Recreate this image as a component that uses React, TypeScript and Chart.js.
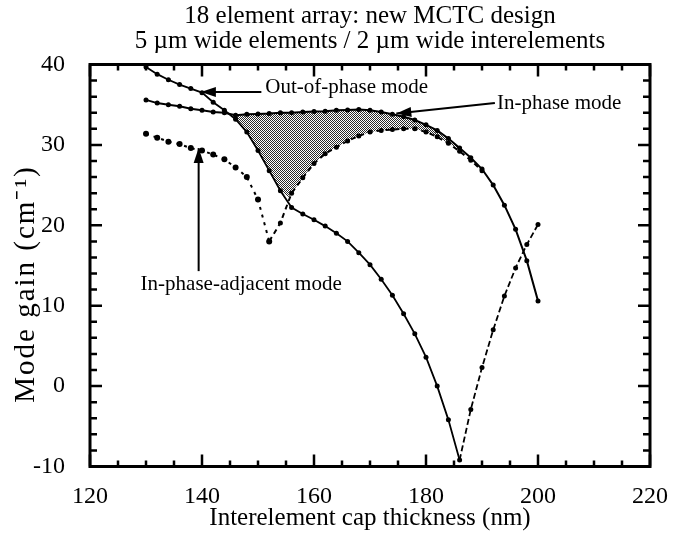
import { useEffect, useRef } from 'react';
import { Chart, registerables } from 'chart.js';

Chart.register(...registerables);

const FONT = '"Liberation Serif", "Times New Roman", serif';

const titleLines = ['18 element array: new MCTC design', '5 \u00b5m wide elements / 2 \u00b5m wide interelements'];
const xAxisTitle = 'Interelement cap thickness (nm)';
const yAxisTitle = 'Mode gain (cm\u207b\u00b9)';

const xTickLabels = [120, 140, 160, 180, 200, 220];
const yTickLabels = [-10, 0, 10, 20, 30, 40];

const thickness = [130, 132, 134, 136, 138, 140, 142, 144, 146, 148, 150, 152, 154, 156, 158, 160, 162, 164, 166, 168, 170, 172, 174, 176, 178, 180, 182, 184, 186, 188, 190, 192, 194, 196, 198, 200];

const inPhase = [35.6, 35.2, 35.0, 34.8, 34.5, 34.3, 34.1, 34.0, 33.7, 33.8, 33.85, 33.9, 34.0, 34.0, 34.1, 34.15, 34.2, 34.3, 34.35, 34.4, 34.3, 34.1, 33.8, 33.5, 33.1, 32.5, 31.8, 30.8, 29.6, 28.4, 27.0, 25.0, 22.5, 19.5, 15.6, 10.6];

const outOfPhase = [39.7, 38.8, 38.1, 37.5, 37.0, 36.5, 35.3, 34.3, 33.2, 31.6, 29.3, 26.8, 24.3, 22.2, 21.4, 20.7, 19.9, 19.0, 18.0, 16.6, 15.1, 13.3, 11.3, 9.0, 6.5, 3.6, 0.0, -4.2, -9.2, -2.9, 2.3, 7.0, 11.2, 14.7, 17.6, 20.1];

const adjacentThickness = [130, 132, 134, 136, 138, 140, 142, 144, 146, 148, 150, 152, 154, 156, 158, 160, 162, 164, 166, 168, 170, 172, 174, 176, 178, 180, 182, 184, 186, 188, 190];
const inPhaseAdjacent = [31.4, 30.9, 30.4, 30.1, 29.6, 29.3, 28.8, 28.2, 27.2, 26.0, 23.2, 18.0, 20.3, 24.0, 25.9, 27.7, 28.9, 29.7, 30.5, 31.1, 31.6, 31.8, 31.9, 32.0, 32.0, 31.6, 31.0, 30.2, 29.2, 28.1, 26.8];

// lower edge of the shaded (hatched) region
const shadeThickness = [145.4, 146, 148, 150, 152, 154, 155.4, 156, 158, 160, 162, 164, 166, 168, 170, 172, 174, 176, 178, 180, 182, 184, 186];
const shadeLower = [33.6, 33.2, 31.6, 29.3, 26.8, 24.3, 23.5, 24.0, 25.9, 27.7, 28.9, 29.7, 30.5, 31.1, 31.6, 31.8, 31.9, 32.0, 32.0, 31.6, 31.0, 30.2, 29.4];

const annotations = [
  { text: 'Out-of-phase mode', tx: 151.3, ty: 37.14, align: 'left', from: [150.6, 36.58], to: [139.8, 36.58] },
  { text: 'In-phase mode', tx: 192.7, ty: 35.17, align: 'left', from: [192.3, 35.2], to: [174.7, 33.9] },
  { text: 'In-phase-adjacent mode', tx: 147.0, ty: 12.6, align: 'center', from: [139.4, 14.3], to: [139.4, 29.6] },
];

const X_MIN = 120, X_MAX = 220, X_MAJOR = 20, X_MINOR = 5;
const Y_MIN = -10, Y_MAX = 40, Y_MAJOR = 10, Y_MINOR = 2;

function arrowHead(ctx: CanvasRenderingContext2D, x0: number, y0: number, x1: number, y1: number) {
  const ang = Math.atan2(y1 - y0, x1 - x0);
  const len = 15, hw = 5;
  ctx.beginPath();
  ctx.moveTo(x1, y1);
  ctx.lineTo(x1 - len * Math.cos(ang) + hw * Math.sin(ang), y1 - len * Math.sin(ang) - hw * Math.cos(ang));
  ctx.lineTo(x1 - len * Math.cos(ang) - hw * Math.sin(ang), y1 - len * Math.sin(ang) + hw * Math.cos(ang));
  ctx.closePath();
  ctx.fill();
}

const framePlugin = {
  id: 'frameTicks',
  afterDraw(chart: any) {
    const { ctx, chartArea: a } = chart;
    const x = chart.scales.x;
    const y = chart.scales.y;
    ctx.save();
    ctx.strokeStyle = '#000';
    ctx.fillStyle = '#000';
    ctx.lineWidth = 2.5;
    ctx.beginPath();
    for (let v = X_MIN; v <= X_MAX; v += X_MINOR) {
      const px = x.getPixelForValue(v);
      const len = v % X_MAJOR === 0 ? 12 : 6;
      ctx.moveTo(px, a.bottom); ctx.lineTo(px, a.bottom - len);
      ctx.moveTo(px, a.top); ctx.lineTo(px, a.top + len);
    }
    for (let v = Y_MIN; v <= Y_MAX; v += Y_MINOR) {
      const py = y.getPixelForValue(v);
      const len = v % Y_MAJOR === 0 ? 12 : 7;
      ctx.moveTo(a.left, py); ctx.lineTo(a.left + len, py);
      ctx.moveTo(a.right, py); ctx.lineTo(a.right - len, py);
    }
    ctx.stroke();
    ctx.lineWidth = 3;
    ctx.strokeRect(a.left, a.top, a.right - a.left, a.bottom - a.top);

    ctx.font = `21px ${FONT}`;
    ctx.textBaseline = 'middle';
    ctx.lineWidth = 2;
    for (const an of annotations) {
      const x0 = x.getPixelForValue(an.from[0]);
      const y0 = y.getPixelForValue(an.from[1]);
      const x1 = x.getPixelForValue(an.to[0]);
      const y1 = y.getPixelForValue(an.to[1]);
      ctx.beginPath();
      ctx.moveTo(x0, y0);
      ctx.lineTo(x1, y1);
      ctx.stroke();
      arrowHead(ctx, x0, y0, x1, y1);
      ctx.textAlign = an.align as CanvasTextAlign;
      ctx.fillText(an.text, x.getPixelForValue(an.tx), y.getPixelForValue(an.ty));
    }

    // y-axis title (wider set than the other labels in the original)
    ctx.save();
    ctx.translate(26, 284);
    ctx.rotate(-Math.PI / 2);
    ctx.font = `29px ${FONT}`;
    try { (ctx as any).letterSpacing = '2px'; } catch (e) { /* ignore */ }
    ctx.textAlign = 'center';
    ctx.textBaseline = 'middle';
    ctx.fillText(yAxisTitle, 0, 0);
    ctx.restore();

    ctx.restore();
  },
};

function makePattern(): CanvasPattern | string {
  const c = document.createElement('canvas');
  c.width = 2; c.height = 2;
  const g = c.getContext('2d');
  if (!g) return '#888';
  g.fillStyle = '#fff';
  g.fillRect(0, 0, 2, 2);
  g.fillStyle = '#2a2a2a';
  g.fillRect(0, 0, 1, 1);
  g.fillRect(1, 1, 1, 1);
  const p = g.createPattern(c, 'repeat');
  return p || '#888';
}

export default function App() {
  const ref = useRef<HTMLCanvasElement | null>(null);

  useEffect(() => {
    if (!ref.current) return;
    const pattern = makePattern();
    const chart = new Chart(ref.current, {
      type: 'line',
      data: {
        datasets: [
          {
            label: 'In-phase mode',
            data: thickness.map((t, i) => ({ x: t, y: inPhase[i] })),
            borderColor: '#000',
            backgroundColor: '#000',
            borderWidth: 2,
            pointRadius: 2.5,
            pointBorderWidth: 0,
            fill: false,
            tension: 0,
          },
          {
            label: 'Out-of-phase mode',
            data: thickness.map((t, i) => ({ x: t, y: outOfPhase[i] })),
            borderColor: '#000',
            backgroundColor: '#000',
            borderWidth: 1.8,
            pointRadius: 2.5,
            pointBorderWidth: 0,
            fill: false,
            tension: 0,
            segment: {
              borderDash: (c: any) => (c.p0.parsed.x >= 186 ? [6, 3] : undefined),
            },
          },
          {
            label: 'In-phase-adjacent mode',
            data: adjacentThickness.map((t, i) => ({ x: t, y: inPhaseAdjacent[i] })),
            borderColor: '#000',
            backgroundColor: '#000',
            borderWidth: 2,
            borderDash: [3, 5],
            pointRadius: (c: any) => (c.raw && c.raw.x <= 152 ? 3 : 2.5),
            pointBorderWidth: 0,
            fill: false,
            tension: 0,
            segment: {
              borderDash: (c: any) => (c.p0.parsed.x >= 152 ? [5, 4] : undefined),
            },
          },
          {
            label: 'shade',
            data: shadeThickness.map((t, i) => ({ x: t, y: shadeLower[i] })),
            borderWidth: 0,
            borderColor: 'rgba(0,0,0,0)',
            backgroundColor: pattern as any,
            pointRadius: 0,
            fill: 0,
            tension: 0,
          },
        ],
      },
      options: {
        animation: false,
        responsive: true,
        maintainAspectRatio: false,
        layout: { padding: { left: 0, right: 19, top: 0, bottom: 0 } },
        plugins: {
          legend: { display: false },
          tooltip: { enabled: false },
          title: {
            display: true,
            text: titleLines,
            fullSize: false,
            color: '#000',
            font: { family: FONT, size: 25, weight: 'normal', lineHeight: 1.0 },
            padding: { top: 4, bottom: 10.5 },
          },
        },
        scales: {
          x: {
            type: 'linear',
            min: X_MIN,
            max: X_MAX,
            grid: { display: false },
            border: { display: false },
            afterFit: (s: any) => { s.height = 70.5; },
            afterBuildTicks: (s: any) => { s.ticks = xTickLabels.map((v) => ({ value: v })); },
            ticks: { color: '#000', padding: 8, maxRotation: 0, font: { family: FONT, size: 24 } },
            title: { display: true, text: xAxisTitle, color: '#000', font: { family: FONT, size: 25 }, padding: { top: 0, bottom: 4 } },
          },
          y: {
            type: 'linear',
            min: Y_MIN,
            max: Y_MAX,
            grid: { display: false },
            border: { display: false },
            afterFit: (s: any) => { s.width = 90; },
            afterBuildTicks: (s: any) => { s.ticks = yTickLabels.map((v) => ({ value: v })); },
            ticks: { color: '#000', padding: 17, font: { family: FONT, size: 24 } },
            title: { display: false, text: yAxisTitle },
          },
        },
      },
      plugins: [framePlugin],
    });
    return () => chart.destroy();
  }, []);

  return (
    <div style={{ position: 'fixed', left: 0, top: 0, width: 676, height: 537, background: '#fff' }}>
      <canvas ref={ref} />
    </div>
  );
}
